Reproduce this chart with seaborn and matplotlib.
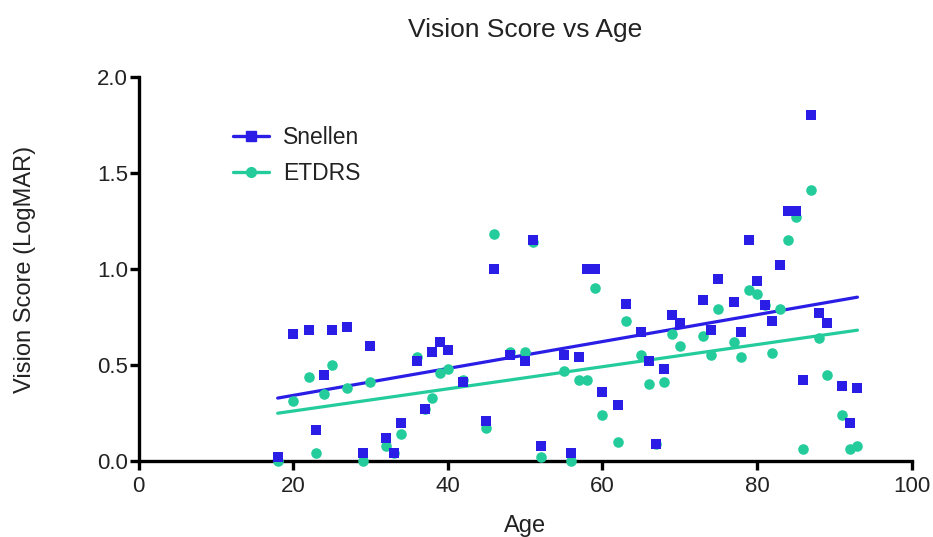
import numpy as np
import pandas as pd
import matplotlib
matplotlib.use("Agg")
import matplotlib.pyplot as plt
from matplotlib.lines import Line2D
import seaborn as sns

ages = [18, 20, 22, 23, 24, 25, 27, 29, 30, 32, 33, 34, 36, 37, 38, 39, 40, 42,
        45, 46, 48, 50, 51, 52, 55, 56, 57, 58, 59, 60, 62, 63, 65, 66, 67, 68,
        69, 70, 73, 74, 75, 77, 78, 79, 80, 81, 82, 83, 84, 85, 86, 87, 88, 89,
        91, 92, 93]
snellen = [0.02, 0.66, 0.68, 0.16, 0.45, 0.68, 0.70, 0.04, 0.60, 0.12, 0.04, 0.20,
           0.52, 0.27, 0.57, 0.62, 0.58, 0.41, 0.21, 1.00, 0.55, 0.52, 1.15, 0.08,
           0.55, 0.04, 0.54, 1.00, 1.00, 0.36, 0.29, 0.82, 0.67, 0.52, 0.09, 0.48,
           0.76, 0.72, 0.84, 0.68, 0.95, 0.83, 0.67, 1.15, 0.94, 0.81, 0.73, 1.02,
           1.30, 1.30, 0.42, 1.80, 0.77, 0.72, 0.39, 0.20, 0.38]
etdrs = [0.00, 0.31, 0.44, 0.04, 0.35, 0.50, 0.38, 0.00, 0.41, 0.08, 0.04, 0.14,
         0.54, 0.27, 0.33, 0.46, 0.48, 0.42, 0.17, 1.18, 0.57, 0.57, 1.14, 0.02,
         0.47, 0.00, 0.42, 0.42, 0.90, 0.24, 0.10, 0.73, 0.55, 0.40, 0.09, 0.41,
         0.66, 0.60, 0.65, 0.55, 0.79, 0.62, 0.54, 0.89, 0.87, 0.81, 0.56, 0.79,
         1.15, 1.27, 0.06, 1.41, 0.64, 0.45, 0.24, 0.06, 0.08]

series_names = ["Snellen", "ETDRS"]
x_ticks = [0, 20, 40, 60, 80, 100]
y_ticks = [0.0, 0.5, 1.0, 1.5, 2.0]

df = pd.DataFrame({
    "Age": ages * 2,
    "Score": snellen + etdrs,
    "Method": ["Snellen"] * len(ages) + ["ETDRS"] * len(ages),
})

sns.set_style("white")
plt.rcParams["font.family"] = ["Liberation Sans", "DejaVu Sans"]

fig = plt.figure(figsize=(9.33, 5.37), dpi=100)
ax = fig.add_axes([0.1485, 0.1415, 0.8285, 0.7151])

col_s = "#2A1EE6"
col_e = "#24CC9C"

sub_e = df[df.Method == "ETDRS"]
sub_s = df[df.Method == "Snellen"]
sns.regplot(data=sub_e, x="Age", y="Score", ax=ax, ci=None, marker="o",
            color=col_e,
            scatter_kws=dict(s=58, alpha=1, clip_on=False, zorder=5, linewidths=0),
            line_kws=dict(lw=2.3, zorder=4))
sns.regplot(data=sub_s, x="Age", y="Score", ax=ax, ci=None, marker="s",
            color=col_s,
            scatter_kws=dict(s=62, alpha=1, clip_on=False, zorder=6, linewidths=0),
            line_kws=dict(lw=2.3, zorder=4))

ax.set_xlim(0, 100)
ax.set_ylim(0, 2.0)
ax.set_xticks(x_ticks)
ax.set_yticks(y_ticks)
ax.set_yticklabels([f"{v:.1f}" for v in y_ticks])
sns.despine(ax=ax)
for sp in ["left", "bottom"]:
    ax.spines[sp].set_linewidth(2.4)
    ax.spines[sp].set_color("black")
ax.tick_params(axis="both", which="major", direction="out", length=6.5, width=2.4,
               labelsize=16, color="black", labelcolor="#222222",
               left=True, bottom=True)
ax.tick_params(axis="y", pad=1)
ax.tick_params(axis="x", pad=4)

ax.set_xlabel("Age", fontsize=17, labelpad=13, color="#222222")
ax.set_ylabel("Vision Score (LogMAR)", fontsize=17, labelpad=44, color="#222222")
ax.set_title("Vision Score vs Age", fontsize=19, pad=29, color="#222222")

handles = [
    Line2D([0], [0], color=col_s, lw=2.4, marker="s", markersize=7),
    Line2D([0], [0], color=col_e, lw=2.4, marker="o", markersize=7),
]
ax.legend(handles, series_names, loc="upper left", bbox_to_anchor=(0.095, 0.925),
          frameon=False, fontsize=16.5, handlelength=1.6, handletextpad=0.6,
          labelspacing=0.55, labelcolor="#222222")

fig.savefig("out.png", dpi=100)
